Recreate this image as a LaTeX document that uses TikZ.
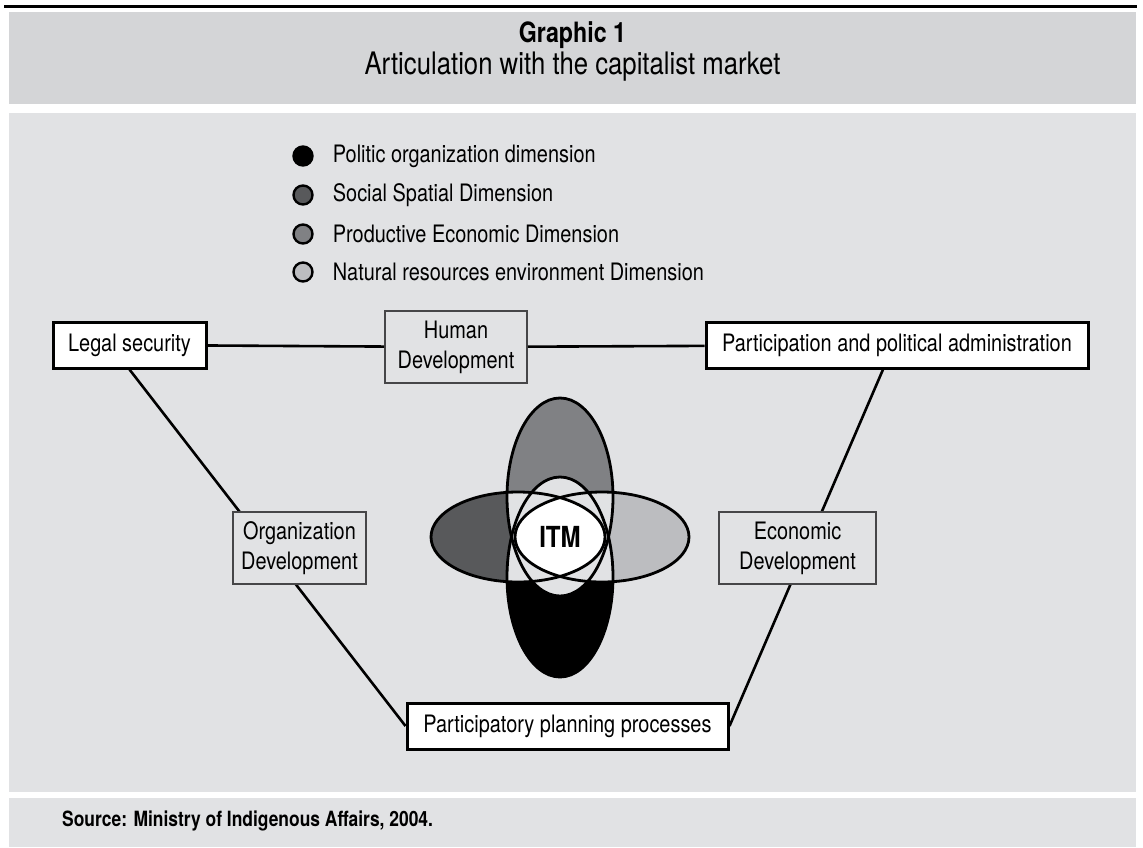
\documentclass[tikz,border=0pt]{standalone}
\usepackage{fontspec}
\setmainfont{TeX Gyre Heros}[FakeStretch=0.83]
\usetikzlibrary{positioning}
\definecolor{bandgray}{RGB}{212,213,215}
\definecolor{panelgray}{RGB}{225,226,228}
\definecolor{socialgray}{RGB}{88,89,91}
\definecolor{prodgray}{RGB}{128,129,132}
\definecolor{naturegray}{RGB}{188,189,192}
\definecolor{framegray}{RGB}{70,70,72}

\begin{document}
\begin{tikzpicture}[x=1pt, y=-1pt,
    mainbox/.style={draw=black, line width=3pt, fill=white,
                    minimum width=#1, minimum height=46pt, inner sep=2pt,
                    font=\fontsize{24}{27}\selectfont},
    devbox/.style={draw=framegray, line width=1.6pt, fill=panelgray,
                   minimum width=#1, minimum height=72pt, inner sep=2pt,
                   align=center, font=\fontsize{24}{30}\selectfont},
    legdot/.style={circle, draw=black, line width=2.4pt, fill=#1,
                   minimum size=19pt, inner sep=0pt},
    legtext/.style={font=\fontsize{24}{27}\selectfont, inner sep=0pt},
    link/.style={line width=2.6pt},
    petal/.style={draw=black, line width=2.8pt}
  ]
    \useasboundingbox (0,0) rectangle (1143,847);
    \fill[white] (0,0) rectangle (1143,847);
    \fill[black] (4,4.5) rectangle (1137,7.5);
    \fill[bandgray] (9,12) rectangle (1136,104);
    \fill[panelgray] (9,113) rectangle (1136,792);
    \fill[panelgray] (9,798) rectangle (1136,847);

    % title
    \node[anchor=base, font=\fontsize{28}{31}\selectfont\bfseries] (title) at (572.5,42) {Graphic 1};
    \node[anchor=base, font=\fontsize{31}{34}\selectfont] (subtitle) at (572.5,74) {Articulation with the capitalist market};

    % legend
    \node[legdot=black] (d1) at (303,156) {};
    \node[legdot=socialgray] (d2) at (303,195) {};
    \node[legdot=prodgray] (d3) at (303,234) {};
    \node[legdot=naturegray] (d4) at (303,272) {};
    \node[legtext, right=19pt of d1] (l1) {Politic organization dimension};
    \node[legtext, right=19pt of d2] (l2) {Social Spatial Dimension};
    \node[legtext, right=19pt of d3] (l3) {Productive Economic Dimension};
    \node[legtext, right=19pt of d4] (l4) {Natural resources environment Dimension};

    \node[mainbox=153pt] (legal) at (129.5,345) {Legal security};
    \node[mainbox=382pt] (partic) at (897,345) {Participation and political administration};
    \node[mainbox=321pt] (plan) at (567.5,726) {Participatory planning processes};
    \node[devbox=142pt] (human) at (456,347) {Human\\Development};

    \draw[link] (legal) -- (human);
    \draw[link] (human) -- (partic);
    \draw[link] (legal.south) -- (plan.west);
    \draw[link] ([xshift=-14pt]partic.south) -- (plan.east);

    \node[devbox=133pt] (org) at (299.5,548) {Organization\\Development};
    \node[devbox=157pt] (econ) at (797.5,548) {Economic\\Development};

    % ITM petals
    \fill[prodgray] (560,497) ellipse [x radius=53, y radius=99];
    \fill[black] (560,577) ellipse [x radius=53, y radius=100];
    \fill[socialgray] (518,537) ellipse [x radius=87, y radius=45];
    \fill[naturegray] (602,537) ellipse [x radius=87, y radius=45];
    \begin{scope}
      \clip (560,497) ellipse [x radius=53, y radius=99];
      \fill[panelgray] (560,577) ellipse [x radius=53, y radius=100];
      \fill[panelgray] (518,537) ellipse [x radius=87, y radius=45];
      \fill[panelgray] (602,537) ellipse [x radius=87, y radius=45];
    \end{scope}
    \begin{scope}
      \clip (560,577) ellipse [x radius=53, y radius=100];
      \fill[panelgray] (518,537) ellipse [x radius=87, y radius=45];
      \fill[panelgray] (602,537) ellipse [x radius=87, y radius=45];
    \end{scope}
    \begin{scope}
      \clip (518,537) ellipse [x radius=87, y radius=45];
      \fill[white] (602,537) ellipse [x radius=87, y radius=45];
    \end{scope}
    \draw[petal] (560,497) ellipse [x radius=53, y radius=99];
    \draw[petal] (560,577) ellipse [x radius=53, y radius=100];
    \draw[petal] (518,537) ellipse [x radius=87, y radius=45];
    \draw[petal] (602,537) ellipse [x radius=87, y radius=45];
    \node[font=\fontsize{29}{31}\selectfont\bfseries] (itm) at (560,537) {ITM};

    \node[anchor=west, inner sep=0pt, font=\fontsize{21}{24}\selectfont\bfseries] (source) at (62,821)
      {Source: Ministry of Indigenous Affairs, 2004.};
  \end{tikzpicture}
\end{document}
